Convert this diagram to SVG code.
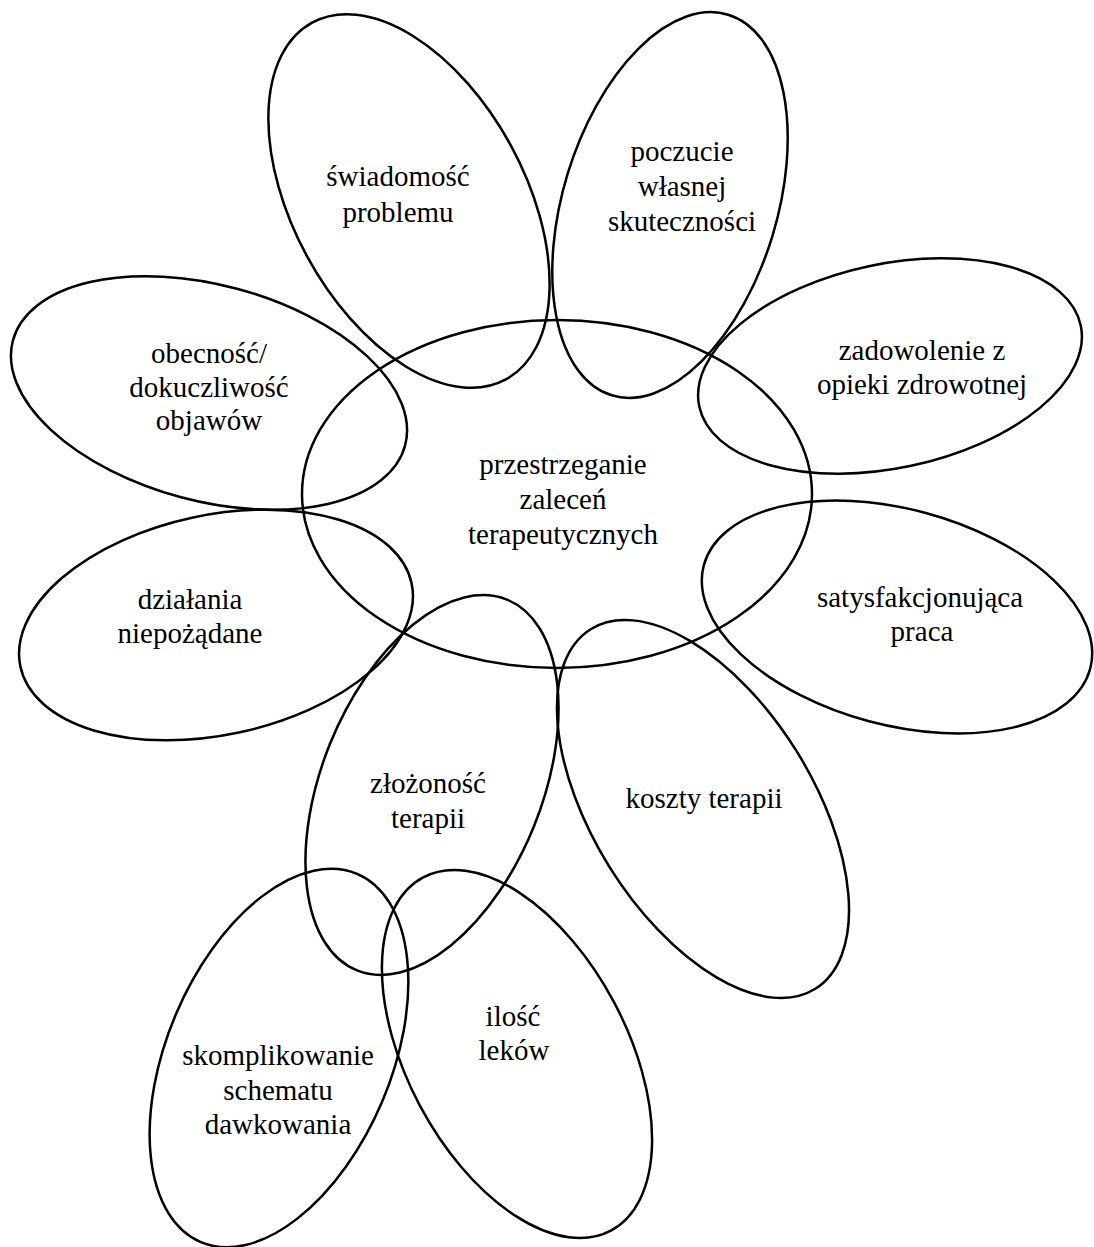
<svg xmlns="http://www.w3.org/2000/svg" width="1094" height="1247" viewBox="0 0 1094 1247">
<style>
.e{fill:none;stroke:#000;stroke-width:2.5}
.t{font-family:"Liberation Serif","Times New Roman",serif;font-size:29px;fill:#000;text-anchor:middle}
</style>
<rect width="1094" height="1247" fill="#fff"/>
<g id="center"><ellipse class="e" cx="557" cy="494" rx="255" ry="174"/>
<text class="t" x="563" y="474">przestrzeganie</text><text class="t" x="563" y="509">zaleceń</text><text class="t" x="563" y="544">terapeutycznych</text></g>
<g id="swiadomosc"><ellipse class="e" cx="409" cy="201" rx="203" ry="116" transform="rotate(61.5 409 201)"/>
<text class="t" x="398" y="186">świadomość</text><text class="t" x="398" y="222">problemu</text></g>
<g id="poczucie"><ellipse class="e" cx="670" cy="205" rx="199" ry="107" transform="rotate(-73 670 205)"/>
<text class="t" x="682" y="161">poczucie</text><text class="t" x="682" y="196">własnej</text><text class="t" x="682" y="231">skuteczności</text></g>
<g id="zadowolenie"><ellipse class="e" cx="890" cy="366" rx="195" ry="102" transform="rotate(-12 890 366)"/>
<text class="t" x="922" y="360">zadowolenie z</text><text class="t" x="922" y="394">opieki zdrowotnej</text></g>
<g id="obecnosc"><ellipse class="e" cx="209" cy="393" rx="203" ry="108" transform="rotate(15 209 393)"/>
<text class="t" x="209" y="363">obecność/</text><text class="t" x="209" y="397">dokuczliwość</text><text class="t" x="209" y="430">objawów</text></g>
<g id="dzialania"><ellipse class="e" cx="216" cy="625" rx="200" ry="110" transform="rotate(-12 216 625)"/>
<text class="t" x="190" y="609">działania</text><text class="t" x="190" y="643">niepożądane</text></g>
<g id="satysfakcja"><ellipse class="e" cx="897" cy="617" rx="200" ry="108" transform="rotate(15 897 617)"/>
<text class="t" x="920" y="607">satysfakcjonująca</text><text class="t" x="922" y="641">praca</text></g>
<g id="zlozonosc"><ellipse class="e" cx="432" cy="785" rx="200" ry="110" transform="rotate(-68 432 785)"/>
<text class="t" x="428" y="793">złożoność</text><text class="t" x="428" y="828">terapii</text></g>
<g id="koszty"><ellipse class="e" cx="703" cy="809" rx="212" ry="110" transform="rotate(58 703 809)"/>
<text class="t" x="704" y="808">koszty terapii</text></g>
<g id="skomplikowanie"><ellipse class="e" cx="279" cy="1058" rx="200" ry="112" transform="rotate(-67 279 1058)"/>
<text class="t" x="278" y="1065">skomplikowanie</text><text class="t" x="278" y="1100">schematu</text><text class="t" x="278" y="1134">dawkowania</text></g>
<g id="ilosc"><ellipse class="e" cx="517" cy="1054" rx="200" ry="110" transform="rotate(62 517 1054)"/>
<text class="t" x="513" y="1026">ilość</text><text class="t" x="514" y="1060">leków</text></g>
<g id="connectors"></g>
</svg>
